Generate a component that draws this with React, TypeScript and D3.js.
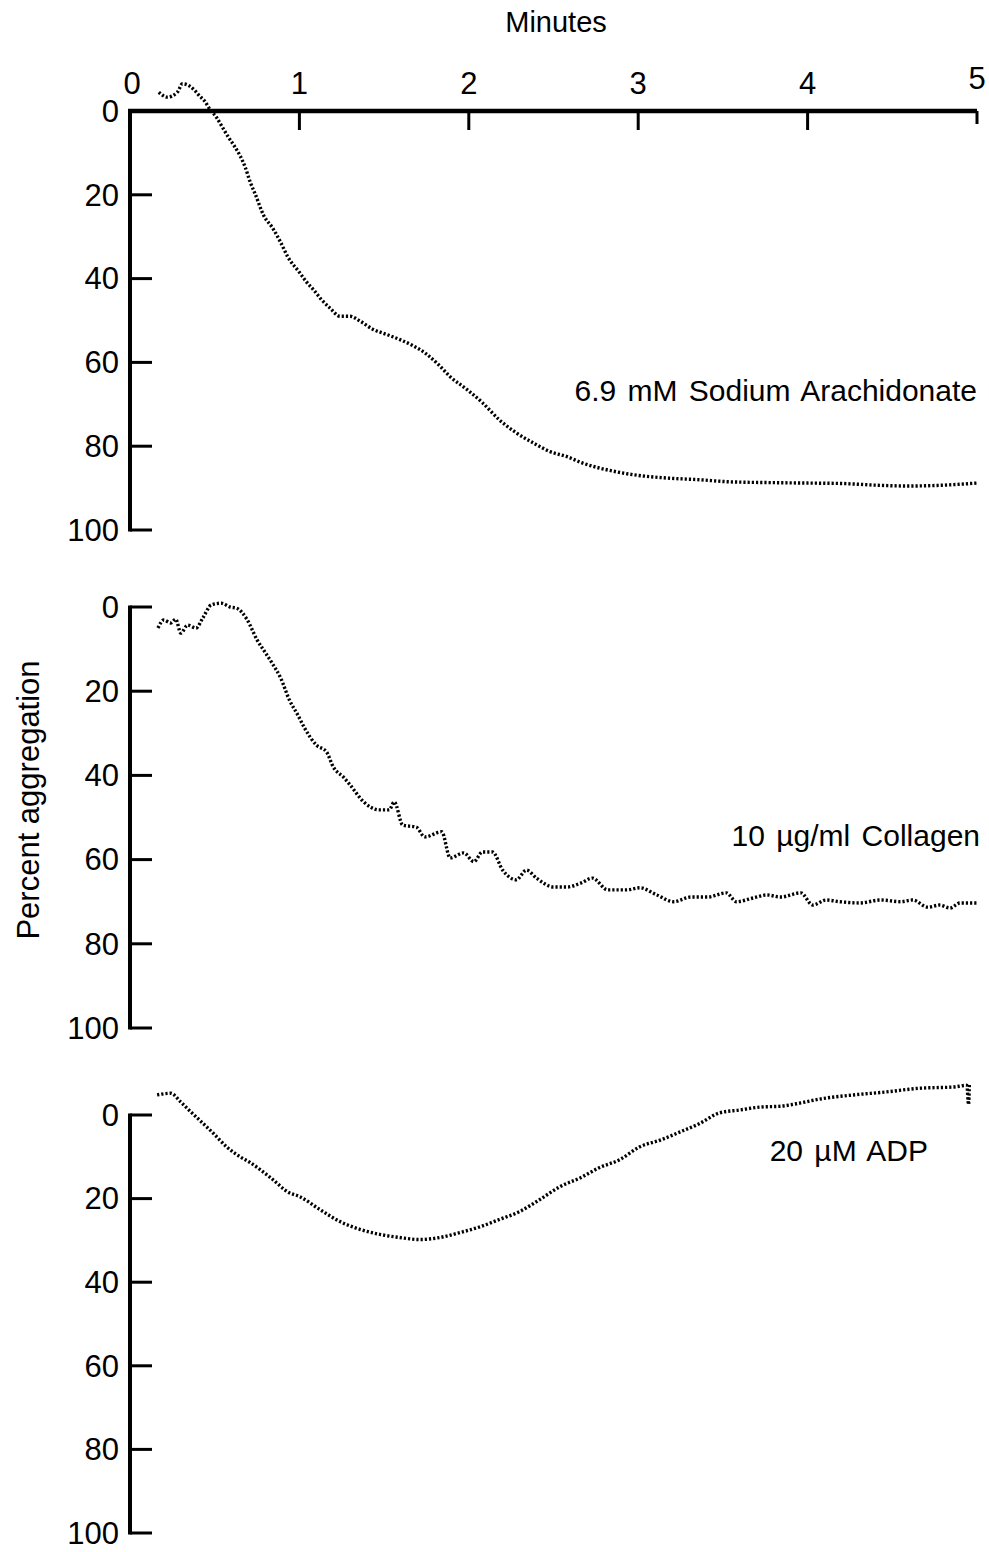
import React from "react";
import * as d3 from "d3";

const xTicks = [0, 1, 2, 3, 4, 5];
const yTicks = [0, 20, 40, 60, 80, 100];

const arachTime = [0.17,0.22,0.28,0.31,0.35,0.38,0.41,0.44,0.47,0.51,0.54,0.58,0.62,0.65,0.68,0.71,0.74,0.79,0.84,0.89,0.93,1.0,1.04,1.09,1.13,1.18,1.24,1.30,1.36,1.43,1.52,1.59,1.67,1.75,1.82,1.89,1.99,2.08,2.18,2.28,2.38,2.48,2.58,2.67,2.77,2.87,2.97,3.17,3.36,3.54,3.8,4.0,4.2,4.4,4.6,4.8,5.0];
const arachValue = [-4.5,-3.3,-4.5,-6.5,-6,-5,-3.6,-2.4,-0.5,1.5,3.5,6.2,8.6,10.7,13.4,17,19.9,25,27.8,31.4,34.7,38.5,40.7,43,45,47,49,49,50.2,52,53.4,54.5,56,58,60.5,63.4,66.5,69.6,73.7,76.8,79.2,81.3,82.5,84,85.2,86.1,86.8,87.6,88,88.5,88.7,88.8,88.9,89.3,89.5,89.3,88.8];

const collTime = [0.165,0.2,0.24,0.27,0.3,0.34,0.39,0.43,0.48,0.54,0.59,0.63,0.69,0.75,0.8,0.84,0.89,0.94,0.99,1.03,1.1,1.16,1.2,1.26,1.3,1.38,1.47,1.53,1.56,1.61,1.69,1.74,1.84,1.89,1.97,2.03,2.08,2.14,2.2,2.28,2.34,2.4,2.5,2.58,2.66,2.73,2.82,2.93,3.01,3.11,3.21,3.31,3.41,3.52,3.58,3.68,3.76,3.84,3.96,4.03,4.11,4.19,4.31,4.43,4.55,4.62,4.71,4.78,4.84,4.9,5.0];
const collValue = [5,3.1,3.8,2.9,6.2,4.3,5,2.6,-0.5,-0.9,0,0.3,2.9,7.8,10.9,13.4,16.9,22,25.6,28.7,32.8,34.4,38,40.4,42.3,46.3,48.2,48.2,46.3,51.8,52.3,54.6,53.4,59.6,58.4,60.5,58.2,58.2,62.5,64.8,62.5,64.4,66.5,66.5,65.6,64.4,67.2,67.2,66.7,68.4,70,68.9,68.9,67.9,70,69.1,68.4,68.9,67.9,70.8,69.6,70,70.3,69.6,70,69.6,71.3,70.8,71.5,70.3,70.3];

const adpTime = [0.16,0.24,0.3,0.36,0.41,0.49,0.57,0.65,0.71,0.83,0.94,1.0,1.12,1.24,1.36,1.48,1.59,1.71,1.83,1.95,2.07,2.18,2.3,2.42,2.54,2.66,2.77,2.89,3.01,3.13,3.25,3.36,3.48,3.6,3.72,3.84,3.96,4.07,4.27,4.46,4.66,4.86,4.94,4.95,4.955];
const adpValue = [-4.8,-5.2,-3.1,-0.7,1.2,4.3,7.6,10,11.4,15,18.6,19.5,22.6,25.5,27.4,28.6,29.3,29.8,29.3,28.1,26.7,25,23.1,20.2,17.1,15,12.6,10.7,7.6,6,4,2.1,-0.5,-1.2,-1.9,-2.1,-2.9,-3.8,-4.8,-5.5,-6.4,-6.7,-7.1,-2.5,-7.5];

const panelLabels = ["6.9 mM Sodium Arachidonate", "10 µg/ml Collagen", "20 µM ADP"];

const FONT = "'Liberation Sans', Arial, Helvetica, sans-serif";

export default function App() {
  const x = d3.scaleLinear().domain([0, 5]).range([130, 977]);
  const panels = [
    { y: d3.scaleLinear().domain([0, 100]).range([111, 530]), t: arachTime, v: arachValue, label: panelLabels[0], lx: 977, ly: 390 },
    { y: d3.scaleLinear().domain([0, 100]).range([607, 1028]), t: collTime, v: collValue, label: panelLabels[1], lx: 980, ly: 835 },
    { y: d3.scaleLinear().domain([0, 100]).range([1115, 1533]), t: adpTime, v: adpValue, label: panelLabels[2], lx: 928, ly: 1150 },
  ];
  const axisX = x(0);
  return (
    <svg width={989} height={1552} style={{ position: "absolute", left: 0, top: 0, background: "#fff" }} fontFamily={FONT}>
      <rect x={0} y={0} width={989} height={1552} fill="#fff" />
      <text x={556} y={32} fontSize={29} textAnchor="middle" fill="#000">Minutes</text>
      <line x1={axisX - 2} x2={x(5)} y1={111} y2={111} stroke="#000" strokeWidth={4.5} />
      {xTicks.map((t) => (
        <g key={"xt" + t}>
          {t > 0 && <line x1={x(t)} x2={x(t)} y1={111} y2={t === 5 ? 124 : 130} stroke="#000" strokeWidth={3} />}
          <text x={x(t) + (t === 0 ? 2 : 0)} y={t === 5 ? 89 : 94} fontSize={31} textAnchor="middle" fill="#000">{t}</text>
        </g>
      ))}
      <text transform="translate(39,800) rotate(-90)" fontSize={31} textAnchor="middle" fill="#000">Percent aggregation</text>
      {panels.map((p, i) => {
        const line = d3.line<number>().x((_, k) => x(p.t[k])).y((d) => p.y(d)).curve(d3.curveMonotoneX);
        return (
          <g key={"p" + i}>
            <line x1={axisX} x2={axisX} y1={p.y(0) - (i === 0 ? 2 : 1.5)} y2={p.y(100) + 1.5} stroke="#000" strokeWidth={4} />
            {yTicks.map((v) => (
              <g key={"yt" + v}>
                {(v > 0 || i > 0) && (
                  <line x1={axisX} x2={axisX + 22} y1={p.y(v)} y2={p.y(v)} stroke="#000" strokeWidth={3} />
                )}
                <text x={119} y={p.y(v)} dy="0.35em" fontSize={31} textAnchor="end" fill="#000">{v}</text>
              </g>
            ))}
            <path d={line(p.v) || ""} fill="none" stroke="#000" strokeWidth={3.4} strokeDasharray="2.2 2" />
            <text x={p.lx} y={p.ly} dy="0.36em" fontSize={30} textAnchor="end" wordSpacing={3} fill="#000">{p.label}</text>
          </g>
        );
      })}
    </svg>
  );
}
